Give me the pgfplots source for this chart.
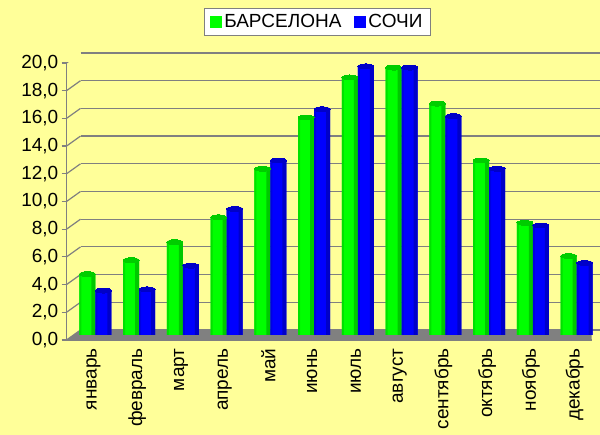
\documentclass[border=0pt]{standalone}
\usepackage{fontspec}
\setmainfont{Liberation Sans}
\usepackage{pgfplots}
\usepackage{pgfplotstable}
\pgfplotsset{compat=1.18}

\definecolor{bg}{RGB}{255,255,153}
\definecolor{gridc}{RGB}{128,128,128}
\definecolor{floorc}{RGB}{128,128,128}
\definecolor{gr}{RGB}{0,255,0}
\definecolor{grL}{RGB}{0,225,0}
\definecolor{grR}{RGB}{0,200,0}
\definecolor{grT}{RGB}{0,205,0}
\definecolor{bl}{RGB}{0,0,255}
\definecolor{blL}{RGB}{0,0,225}
\definecolor{blR}{RGB}{0,0,200}
\definecolor{blT}{RGB}{0,0,200}

% month index, Barcelona, Sochi
\pgfplotstableread{
m g b
0 4.4 3.2
1 5.4 3.3
2 6.7 5.0
3 8.5 9.1
4 12.0 12.6
5 15.7 16.3
6 18.6 19.4
7 19.3 19.3
8 16.7 15.8
9 12.6 12.0
10 8.1 7.9
11 5.7 5.2
}\temps

\pgfplotsset{base/.style={scale only axis, width=525pt, height=277pt,
  xmin=-0.5, xmax=11.5, ymin=0, ymax=20, anchor=south west}}

\begin{document}
\begin{tikzpicture}
\useasboundingbox (0pt,0pt) rectangle (600pt,435pt);
\fill[bg] (0pt,0pt) rectangle (600pt,435pt);
\clip (0pt,0pt) rectangle (600pt,435pt);

% back wall with grid
\begin{axis}[base, at={(80.5pt,105pt)},
  axis line style={draw=none}, tick style={draw=none},
  xtick=\empty, ytick={0,2,...,20}, yticklabels={},
  ymajorgrids, major grid style={gridc, line width=1.2pt}]
\end{axis}

% front plane: floor, axes, labels
\begin{axis}[base, at={(66.5pt,95pt)},
  axis lines*=left, axis line style={gridc, line width=1.2pt},
  tick align=outside, major tick length=5pt,
  tick style={gridc, line width=1.2pt},
  xtick={0,...,11}, xtick style={draw=none},
  xticklabels={январь,февраль,март,апрель,май,июнь,июль,август,сентябрь,октябрь,ноябрь,декабрь},
  x tick label style={rotate=90, anchor=east, yshift=-5pt, font=\fontsize{19}{21}\selectfont},
  ytick={0,2,...,20},
  y tick label style={font=\fontsize{19}{21}\selectfont, inner sep=2pt, xshift=-1pt,
    /pgf/number format/.cd, fixed, fixed zerofill, precision=1, use comma, assume math mode=true}]
\fill[floorc] (axis cs:-0.5,0) -- (axis cs:11.5,0) -- ++(14pt,10pt)
  -- ([shift={(14pt,10pt)}]axis cs:-0.5,0) -- cycle;
\pgfplotsinvokeforeach{0,2,...,20}{\draw[gridc, line width=1.2pt] (axis cs:-0.5,#1) -- ++(14pt,10pt);}
\pgfplotsinvokeforeach{-0.5,0.5,...,11.5}{\draw[gridc, line width=1.2pt] (axis cs:#1,0) -- ++(0pt,-6pt);}
\end{axis}

% bars, mid depth
\begin{axis}[base, at={(73.5pt,100pt)}, hide axis,
  legend columns=2,
  legend style={at={(0.4645,1.1805)}, anchor=north, draw=gridc, fill=white,
    font=\fontsize{19}{21}\selectfont, inner xsep=6pt, inner ysep=4pt,
    /tikz/every odd column/.append style={column sep=0pt},
    /tikz/every even column/.append style={column sep=11pt}}]
\addplot[ybar, bar width=16pt, bar shift=-8pt, draw=none, fill=gr,
  legend image code/.code={\fill[gr] (0pt,-6pt) rectangle (12pt,6pt);}]
  table[x=m, y=g] {\temps};
\addlegendentry{БАРСЕЛОНА}
\addplot[ybar, bar width=16pt, bar shift=8pt, draw=none, fill=bl,
  legend image code/.code={\fill[bl] (0pt,-6pt) rectangle (12pt,6pt);}]
  table[x=m, y=b] {\temps};
\addlegendentry{СОЧИ}
% cylinder shading strips
\addplot[ybar, bar width=4pt, bar shift=-2pt, draw=none, fill=grR, forget plot]
  table[x=m, y=g] {\temps};
\addplot[ybar, bar width=2pt, bar shift=-15pt, draw=none, fill=grL, forget plot]
  table[x=m, y=g] {\temps};
\addplot[ybar, bar width=4pt, bar shift=14pt, draw=none, fill=blR, forget plot]
  table[x=m, y=b] {\temps};
\addplot[ybar, bar width=2pt, bar shift=1pt, draw=none, fill=blL, forget plot]
  table[x=m, y=b] {\temps};
% cylinder caps (bar shift of 8pt = 0.1829 category)
\addplot[only marks, forget plot, mark=*, mark size=8pt,
  mark options={draw=grT, fill=grT, line width=0pt, yscale=0.3}]
  table[x expr=\thisrow{m}-0.1829, y=g] {\temps};
\addplot[only marks, forget plot, mark=*, mark size=8pt,
  mark options={draw=blT, fill=blT, line width=0pt, yscale=0.3}]
  table[x expr=\thisrow{m}+0.1829, y=b] {\temps};
\end{axis}
\end{tikzpicture}
\end{document}
